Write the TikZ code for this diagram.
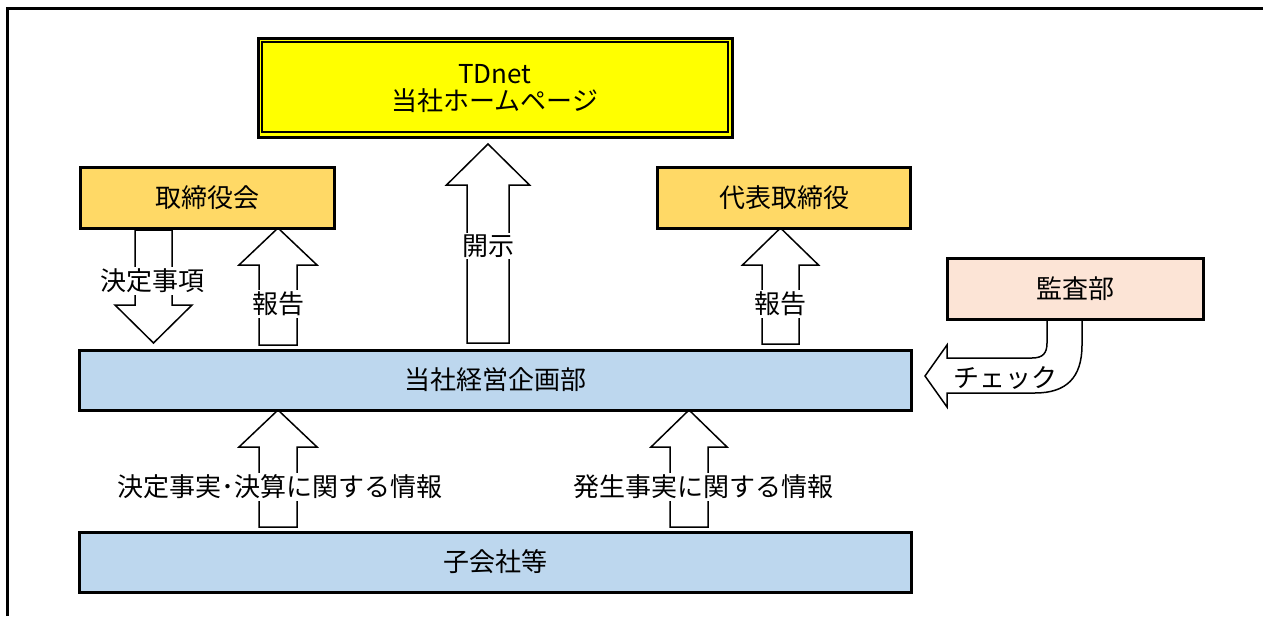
\documentclass[tikz,border=0pt]{standalone}
\usepackage{fontspec}
\setmainfont{Noto Sans CJK JP}
\definecolor{tdyellow}{HTML}{FFFF00}
\definecolor{boardorange}{HTML}{FFD966}
\definecolor{auditpeach}{HTML}{FCE4D6}
\definecolor{planblue}{HTML}{BDD7EE}
\newcommand{\blockarr}[6]{%
  \draw[blockarrow] ({#1-#2},#4) -- ({#1-#2},#5) -- ({#1-#3},#5) -- (#1,#6)
    -- ({#1+#3},#5) -- ({#1+#2},#5) -- ({#1+#2},#4) -- cycle;}
\begin{document}
\begin{tikzpicture}[x=1pt,y=-1pt,
  box/.style={draw=black, line width=3pt, rectangle, inner sep=0pt,
    font=\fontsize{26}{28}\selectfont, align=center},
  blockarrow/.style={draw=black, line width=1.5pt, fill=white, line join=miter},
  lbl/.style={fill=white, inner sep=2pt, font=\fontsize{26}{28}\selectfont}]
\useasboundingbox (0,0) rectangle (1263,616);
\draw[line width=3pt] (7,616) -- (7,8) -- (1264,8);

% block arrows
\blockarr{153.5}{18.5}{38.5}{230}{305}{343}
\blockarr{278}{19}{39}{345}{265}{228}
\blockarr{488}{21}{41.5}{343}{185}{144}
\blockarr{780.5}{18.5}{38}{344}{265}{228}
\blockarr{278}{19}{39}{527}{447}{410}
\blockarr{689}{19}{38}{527}{447}{410}

% check arrow
\draw[blockarrow] (1047,319) -- (1082,319) -- (1082,345)
  .. controls (1082,378) and (1066,393) .. (1035,393) -- (947,393) -- (947,407)
  -- (925,376) -- (947,345) -- (947,358) -- (1032,358)
  .. controls (1043,358) and (1047,353) .. (1047,343) -- cycle;

% boxes
\node[box, fill=tdyellow, minimum width=474pt, minimum height=99pt] (tdnet) at (495,87.5) {};
\draw[line width=1.5pt] (262,42) rectangle (728,132);
\node[font=\fontsize{26}{27}\selectfont, align=center] (tdnettext) at (495,89) {TDnet\\当社ホームページ};
\node[box, fill=boardorange, minimum width=254pt, minimum height=61pt] (board) at (207,197.5) {取締役会};
\node[box, fill=boardorange, minimum width=253pt, minimum height=61pt] (ceo) at (784,197.5) {代表取締役};
\node[box, fill=auditpeach, minimum width=256pt, minimum height=61pt] (audit) at (1075,288.5) {監査部};
\node[box, fill=planblue, minimum width=832pt, minimum height=60pt] (plan) at (495,380) {当社経営企画部};
\node[box, fill=planblue, minimum width=832pt, minimum height=60pt] (subs) at (495,562) {子会社等};

% labels
\node[lbl] (l1) at (152,281) {決定事項};
\node[lbl] (l2) at (278,304) {報告};
\node[lbl] (l3) at (488,246) {開示};
\node[lbl] (l4) at (780.5,304) {報告};
\node[lbl] (l5) at (280,487) {決定事実･決算に関する情報};
\node[lbl] (l6) at (703,487) {発生事実に関する情報};
\node[font=\fontsize{26}{28}\selectfont, inner sep=0pt] (l7) at (1005,378) {チェック};
\end{tikzpicture}
\end{document}
